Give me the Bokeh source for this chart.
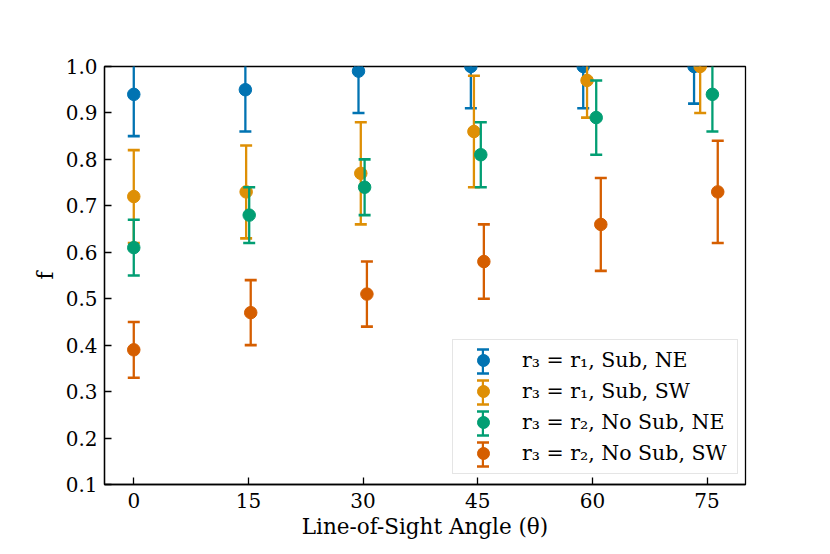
import numpy as np
from bokeh.plotting import figure
from bokeh.models import ColumnDataSource, Range1d, FixedTicker, Legend, LegendItem
from bokeh.embed import file_html
from bokeh.resources import INLINE

# ---------------- data ----------------
angles = [0, 15, 30, 45, 60, 75]
y_ticks = [0.1, 0.2, 0.3, 0.4, 0.5, 0.6, 0.7, 0.8, 0.9, 1.0]
y_tick_labels = ["0.1", "0.2", "0.3", "0.4", "0.5", "0.6", "0.7", "0.8", "0.9", "1.0"]

labels = [
    "r\u2083 = r\u2081, Sub, NE",
    "r\u2083 = r\u2081, Sub, SW",
    "r\u2083 = r\u2082, No Sub, NE",
    "r\u2083 = r\u2082, No Sub, SW",
]
colors = ["#0173b2", "#de8f05", "#029e73", "#d55e00"]

x_sub_ne = [0.0, 14.6, 29.4, 44.1, 58.8, 73.3]
f_sub_ne = [0.94, 0.95, 0.99, 1.00, 1.00, 1.00]
e_sub_ne = [0.09, 0.09, 0.09, 0.09, 0.09, 0.08]

x_sub_sw = [0.0, 14.7, 29.7, 44.5, 59.3, 74.1]
f_sub_sw = [0.72, 0.73, 0.77, 0.86, 0.97, 1.00]
e_sub_sw = [0.10, 0.10, 0.11, 0.12, 0.08, 0.10]

x_nosub_ne = [0.0, 15.1, 30.2, 45.4, 60.5, 75.7]
f_nosub_ne = [0.61, 0.68, 0.74, 0.81, 0.89, 0.94]
e_nosub_ne = [0.06, 0.06, 0.06, 0.07, 0.08, 0.08]

x_nosub_sw = [0.0, 15.3, 30.5, 45.8, 61.1, 76.4]
f_nosub_sw = [0.39, 0.47, 0.51, 0.58, 0.66, 0.73]
e_nosub_sw = [0.06, 0.07, 0.07, 0.08, 0.10, 0.11]

series = [
    (x_sub_ne, f_sub_ne, e_sub_ne),
    (x_sub_sw, f_sub_sw, e_sub_sw),
    (x_nosub_ne, f_nosub_ne, e_nosub_ne),
    (x_nosub_sw, f_nosub_sw, e_nosub_sw),
]

FONT = "DejaVu Serif"
FS_TICK = "20px"
FS_LEG = "20.5px"
FS_LABEL = "21.5px"

p = figure(
    width=830, height=554,
    x_range=Range1d(-3.83, 80.03), y_range=Range1d(0.1, 1.0),
    output_backend="svg", toolbar_location=None,
    min_border_left=104, min_border_right=85, min_border_top=66, min_border_bottom=70,
)
p.xgrid.visible = False
p.ygrid.visible = False
p.outline_line_color = "black"
p.outline_line_width = 1.3
p.outline_line_alpha = 1.0
p.background_fill_color = "white"
p.border_fill_color = "white"

circ_r, bar_r, cap_r = [], [], []
for (xs, fs, es), col in zip(series, colors):
    fs_a = np.array(fs)
    es_a = np.array(es)
    src = ColumnDataSource(dict(x=xs, f=fs, lo=fs_a - es_a, hi=fs_a + es_a))
    p.segment(x0="x", y0="lo", x1="x", y1="hi", source=src, line_color=col, line_width=2.3)
    p.scatter(x="x", y="lo", marker="dash", size=12, line_color=col, line_width=2.6, source=src)
    p.scatter(x="x", y="hi", marker="dash", size=12, line_color=col, line_width=2.6, source=src)
    c = p.scatter(x="x", y="f", marker="circle", size=12.5, fill_color=col, line_color=col,
                  line_width=1, source=src)
    # legend-only swatches (not drawn in the plot)
    b = p.rect(x="x", y="f", width=1, height=0.1, source=src, fill_color=col, line_alpha=0,
               visible=False)
    k = p.rect(x="x", y="f", width=1, height=0.1, source=src, fill_alpha=0, line_color=col,
               line_width=2.6, line_dash="12 24", visible=False)
    circ_r.append(c)
    bar_r.append(b)
    cap_r.append(k)

# axes
p.xaxis.ticker = FixedTicker(ticks=angles)
p.yaxis.ticker = FixedTicker(ticks=y_ticks)
p.yaxis.major_label_overrides = dict(zip(y_ticks, y_tick_labels))
p.xaxis.axis_label = "Line-of-Sight Angle (\u03b8)"
p.yaxis.axis_label = "f"
for ax in (p.xaxis[0], p.yaxis[0]):
    ax.major_tick_in = 7
    ax.major_tick_out = 0
    ax.minor_tick_in = 0
    ax.minor_tick_out = 0
    ax.major_tick_line_width = 1.3
    ax.major_tick_line_color = "black"
    ax.axis_line_width = 1.3
    ax.axis_line_color = "black"
    ax.major_label_text_font = FONT
    ax.major_label_text_font_size = FS_TICK
    ax.major_label_text_color = "black"
    ax.axis_label_text_font = FONT
    ax.axis_label_text_font_size = FS_LABEL
    ax.axis_label_text_font_style = "normal"
    ax.axis_label_text_color = "black"
p.xaxis.major_label_standoff = 8
p.xaxis.axis_label_standoff = 3
p.yaxis.major_label_standoff = 7
p.yaxis.axis_label_standoff = 5

# legends (aux swatch layers first, then the main legend with circles and labels)
GH, SP, PAD = 30, 1, 5
main_x, leg_y, main_gw = 348, 10, 50
center = main_x + PAD + main_gw / 2

bar_leg = Legend(items=[LegendItem(label="", renderers=[r]) for r in bar_r],
                 location=(center - PAD - 1.5, leg_y), glyph_width=3, glyph_height=GH,
                 spacing=SP, padding=PAD, margin=0, border_line_alpha=0,
                 background_fill_alpha=0, label_text_font_size=FS_LEG, label_standoff=0,
                 label_width=1)
cap_leg = Legend(items=[LegendItem(label="", renderers=[r]) for r in cap_r],
                 location=(center - PAD - 7.5, leg_y), glyph_width=15, glyph_height=GH,
                 spacing=SP, padding=PAD, margin=0, border_line_alpha=0,
                 background_fill_alpha=0, label_text_font_size=FS_LEG, label_standoff=0,
                 label_width=1)
main_leg = Legend(items=[LegendItem(label=l, renderers=[r]) for l, r in zip(labels, circ_r)],
                  location=(main_x, leg_y), glyph_width=main_gw, glyph_height=GH,
                  spacing=SP, padding=PAD, margin=0, label_standoff=14, label_width=210,
                  label_text_font=FONT, label_text_font_size=FS_LEG, label_text_color="black",
                  border_line_color="#cccccc", border_line_width=1.2,
                  background_fill_alpha=0)
p.add_layout(bar_leg)
p.add_layout(cap_leg)
p.add_layout(main_leg)

open("out.html", "w").write(file_html(p, INLINE))
